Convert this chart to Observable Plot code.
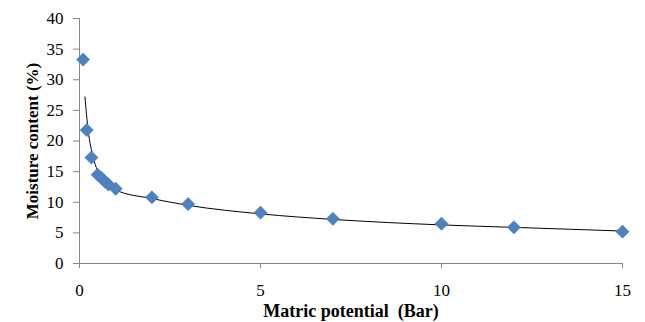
<!DOCTYPE html>
<html><head><meta charset="utf-8">
<script src="https://cdn.jsdelivr.net/npm/d3@7"></script>
<script src="https://cdn.jsdelivr.net/npm/@observablehq/plot@0.6"></script>
<style>
body{margin:0;background:#fff}
svg text{font-family:"Liberation Serif","Times New Roman",serif !important}
g[aria-label$="axis label"] text{font-weight:bold}
g[aria-label="x-axis label"] text{font-size:18px !important}
g[aria-label="y-axis label"] text{font-size:17px !important}
</style>
</head><body><div id="chart"></div>
<script>
const potential = [0.1, 0.2, 0.33, 0.5, 0.6, 0.7, 0.8, 1, 2, 3, 5, 7, 10, 12, 15];
const moisture = [33.3, 21.8, 17.3, 14.5, 14.0, 13.4, 12.9, 12.2, 10.8, 9.7, 8.3, 7.3, 6.5, 5.9, 5.2];
const trendX = [0.15, 0.24, 0.38, 0.6, 1, 2, 3, 5, 7, 10, 12, 15];
const trendY = [27.2, 21.7, 17.3, 14.1, 12.0, 10.6, 9.5, 8.1, 7.2, 6.3, 5.9, 5.3];
const xTicks = [0, 5, 10, 15];
const yTicks = [0, 5, 10, 15, 20, 25, 30, 35, 40];

const points = potential.map((x, i) => ({x, y: moisture[i]}));
const trend = trendX.map((x, i) => ({x, y: trendY[i]}));
const serif = "Liberation Serif";

const chart = Plot.plot({
  width: 645, height: 322,
  marginLeft: 79, marginRight: 23, marginTop: 18, marginBottom: 59,
  style: {fontFamily: serif, fontSize: "17px", color: "#000", background: "#fff"},
  x: {domain: [0, 15]},
  y: {domain: [0, 40]},
  marks: [
    Plot.axisX({ticks: xTicks, tickSize: 5, tickPadding: 15, stroke: "#868686", label: "Matric potential  (Bar)", labelArrow: "none", labelAnchor: "center", labelOffset: 53, fontSize: 17, fontFamily: serif}),
    Plot.axisY({ticks: yTicks, tickSize: 6, tickPadding: 10, stroke: "#868686", label: "Moisture content (%)", labelArrow: "none", labelAnchor: "center", labelOffset: 54, fontSize: 17, fontFamily: serif}),
    Plot.ruleX([0], {stroke: "#868686"}),
    Plot.ruleY([0], {stroke: "#868686"}),
    Plot.line(trend, {x: "x", y: "y", stroke: "#000", strokeWidth: 1, curve: "monotone-x"}),
    Plot.dot(points, {x: "x", y: "y", symbol: "diamond2", r: 6, fill: "#4F81BD", stroke: "#4A7EBB", strokeWidth: 0.5})
  ]
});
d3.select(chart).attr("font-family", serif);
d3.select(chart).selectAll("g, text").attr("font-family", serif).style("font-family", serif);
d3.select(chart).selectAll('g[aria-label$="axis label"], g[aria-label$="axis label"] text').attr("font-weight", "bold");
document.getElementById("chart").append(chart);
</script>
</body></html>
